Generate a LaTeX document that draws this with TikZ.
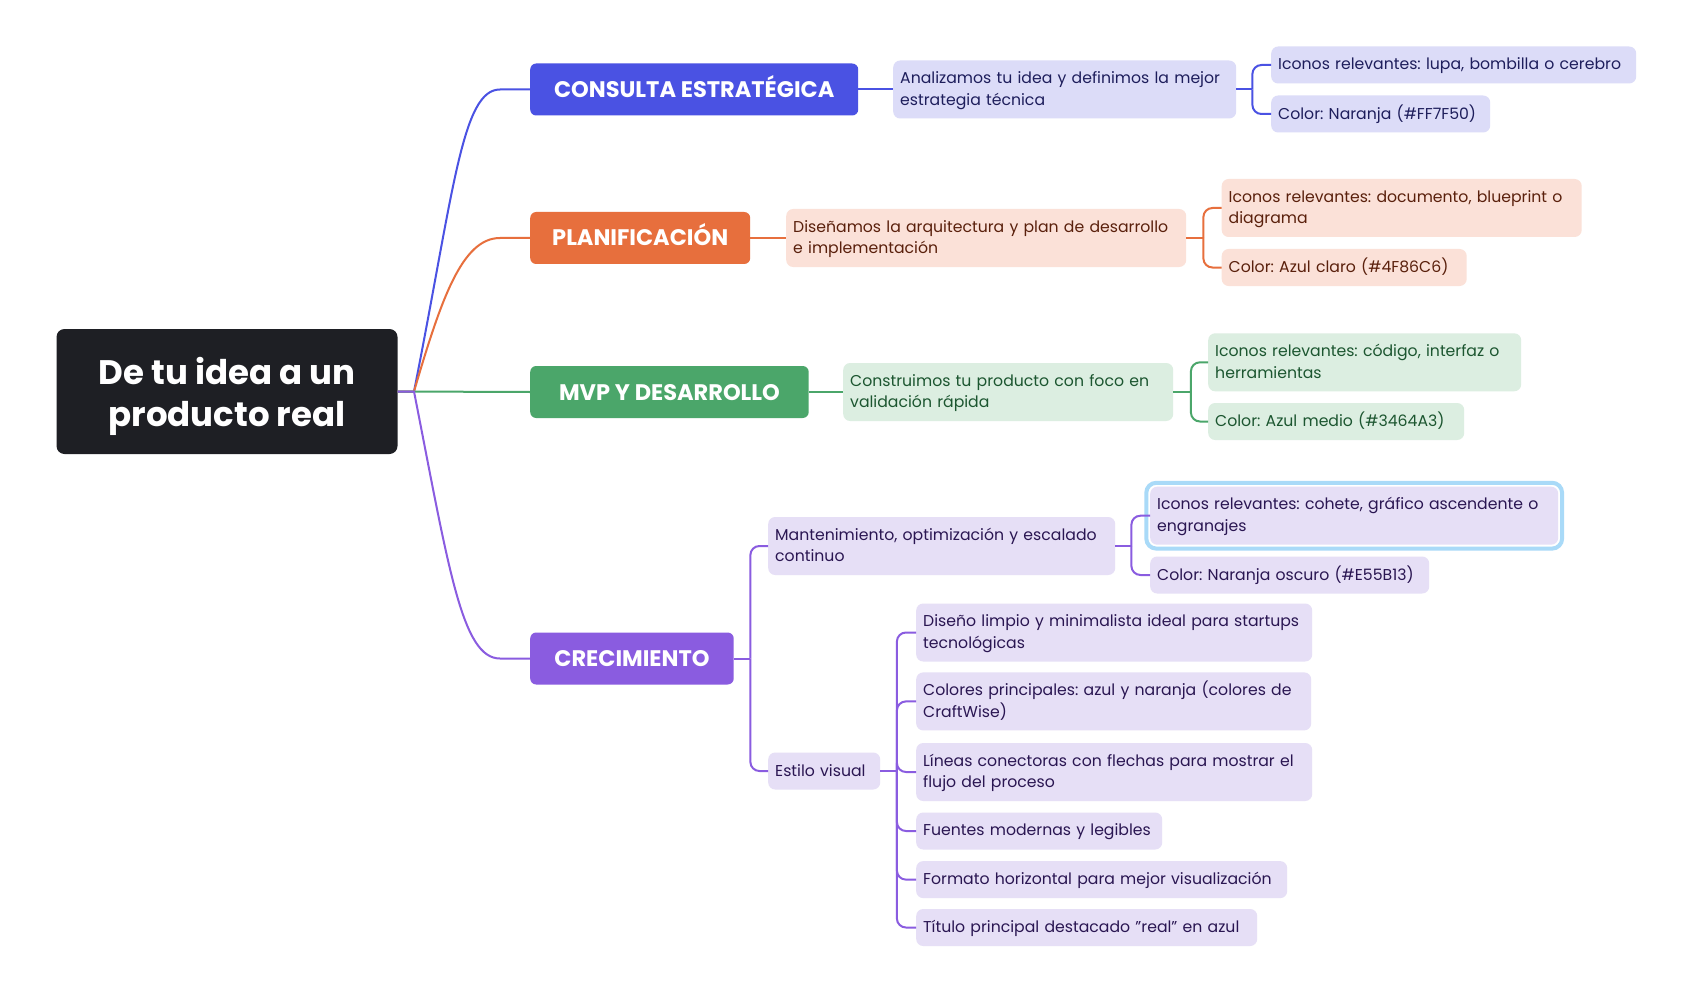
\documentclass[tikz,border=0pt]{standalone}
\usepackage{fontspec}
\setmainfont{Poppins}
\frenchspacing
\definecolor{cBlue}{HTML}{4A52E3}
\definecolor{cBlueL}{HTML}{DCDCF8}
\definecolor{cBlueT}{HTML}{1E1E5C}
\definecolor{cOr}{HTML}{E76F3D}
\definecolor{cOrL}{HTML}{FBE1D8}
\definecolor{cOrT}{HTML}{5A200C}
\definecolor{cGr}{HTML}{4BA66A}
\definecolor{cGrL}{HTML}{DCEEE1}
\definecolor{cGrT}{HTML}{1C5630}
\definecolor{cPu}{HTML}{8A5CE0}
\definecolor{cPuL}{HTML}{E6DFF6}
\definecolor{cPuT}{HTML}{2A1652}
\definecolor{cRoot}{HTML}{1E1F24}
\definecolor{cHL}{HTML}{A9DAF8}
\newcommand{\lowline}[1]{\raisebox{-4.5pt}[\height][\depth]{#1}}
\begin{document}
\begin{tikzpicture}[x=1pt,y=-1pt,
  rootbox/.style={fill=cRoot, text=white, rounded corners=8pt, align=center,
    minimum width=341pt, minimum height=125pt, inner sep=0pt,
    font=\fontsize{34}{42}\selectfont\bfseries},
  mainbox/.style={anchor=west, text=white, rounded corners=6pt,
    minimum height=52pt, inner sep=0pt, text height=16pt, text depth=0pt,
    font=\fontsize{22.5}{26}\selectfont\bfseries},
  leaf/.style={anchor=west, rounded corners=7pt, inner xsep=7pt, inner ysep=0pt,
    align=left, font=\fontsize{15.7}{21.7}\selectfont,
    execute at begin node={\rule{0pt}{14pt}},
    execute at end node={\rule[-4pt]{0pt}{4pt}}},
  one/.style={minimum height=37pt},
  two/.style={minimum height=58pt},
  bl/.style={leaf, fill=cBlueL, text=cBlueT},
  ol/.style={leaf, fill=cOrL, text=cOrT},
  gl/.style={leaf, fill=cGrL, text=cGrT},
  pl/.style={leaf, fill=cPuL, text=cPuT},
  wire/.style={line width=2pt},
  elbow/.style={line width=2pt, rounded corners=9pt},
]
\useasboundingbox[fill=white] (0,0) rectangle (1704,1000);

% root
\node[rootbox] (root) at (227,391.5) {\lowline{De tu idea a un}\\\lowline{producto real}};
\coordinate (hub) at (414,391.5);

% level 1
\node[mainbox, fill=cBlue, minimum width=328pt] (L1a) at (530,89.5) {CONSULTA ESTRATÉGICA};
\node[mainbox, fill=cOr, minimum width=220pt] (L1b) at (530,238) {PLANIFICACIÓN};
\node[mainbox, fill=cGr, minimum width=278.5pt] (L1c) at (530,392) {MVP Y DESARROLLO};
\node[mainbox, fill=cPu, minimum width=203.5pt] (L1d) at (530,658.5) {CRECIMIENTO};

% level 2
\node[bl, two, text width=329pt] (a2) at (893,89.5) {Analizamos tu idea y definimos la mejor\\estrategia técnica};
\node[ol, two, text width=386pt] (o2) at (786,238) {Diseñamos la arquitectura y plan de desarrollo\\e implementación};
\node[gl, two, text width=316pt] (g2) at (843,392) {Construimos tu producto con foco en\\validación rápida};
\node[pl, two, text width=333pt] (p2a) at (768,546) {Mantenimiento, optimización y escalado\\continuo};
\node[pl, one, text width=98pt] (p2b) at (768,771) {Estilo visual};

% level 3
\node[bl, one, text width=351pt] (a3a) at (1271,65) {Iconos relevantes: lupa, bombilla o cerebro};
\node[bl, one, text width=205pt] (a3b) at (1271,114) {Color: Naranja (\#FF7F50)};
\node[ol, two, text width=346pt] (o3a) at (1221.5,208) {Iconos relevantes: documento, blueprint o\\diagrama};
\node[ol, one, text width=231pt] (o3b) at (1221.5,267.5) {Color: Azul claro (\#4F86C6)};
\node[gl, two, text width=299pt] (g3a) at (1208,362.3) {Iconos relevantes: código, interfaz o\\herramientas};
\node[gl, one, text width=242pt] (g3b) at (1208,421.5) {Color: Azul medio (\#3464A3)};
\node[pl, two, text width=394pt] (p3a) at (1150,515.7) {Iconos relevantes: cohete, gráfico ascendente o\\engranajes};
\node[pl, one, text width=265pt] (p3b) at (1150,575) {Color: Naranja oscuro (\#E55B13)};
\node[pl, two, text width=382pt] (s1) at (916,632.5) {Diseño limpio y minimalista ideal para startups\\tecnológicas};
\node[pl, two, text width=381pt] (s2) at (916,701.4) {Colores principales: azul y naranja (colores de\\CraftWise)};
\node[pl, two, text width=382pt] (s3) at (916,772) {Líneas conectoras con flechas para mostrar el\\flujo del proceso};
\node[pl, one, text width=232pt] (s4) at (916,831) {Fuentes modernas y legibles};
\node[pl, one, text width=357pt] (s5) at (916,879.6) {Formato horizontal para mejor visualización};
\node[pl, one, text width=327pt] (s6) at (916,927.5) {Título principal destacado "real" en azul};

% highlight
\draw[cHL, line width=4pt, rounded corners=10pt]
  ([xshift=-3.7pt,yshift=3.7pt]p3a.north west) rectangle ([xshift=3.7pt,yshift=-3.7pt]p3a.south east);

% root connectors
\draw[wire, cBlue] (root.east) -- (hub) .. controls +(40,-202) and +(-38,0) .. ([xshift=-30pt]L1a.west) -- (L1a.west);
\draw[wire, cOr] (root.east) -- (hub) .. controls +(27,-92) and +(-38,0) .. ([xshift=-30pt]L1b.west) -- (L1b.west);
\draw[wire, cGr] (root.east) -- (L1c.west);
\draw[wire, cPu] (root.east) -- (hub) .. controls +(35,178) and +(-38,0) .. ([xshift=-30pt]L1d.west) -- (L1d.west);

% level1 -> level2
\draw[wire, cBlue] (L1a.east) -- (a2.west);
\draw[wire, cOr] (L1b.east) -- (o2.west);
\draw[wire, cGr] (L1c.east) -- (g2.west);

% brackets
\draw[wire, cBlue] (a2.east) -- ++(16,0) coordinate (ja);
\draw[elbow, cBlue] (ja) |- (a3a.west);
\draw[elbow, cBlue] (ja) |- (a3b.west);

\draw[wire, cOr] (o2.east) -- ++(17,0) coordinate (jo);
\draw[elbow, cOr] (jo) |- (o3a.west);
\draw[elbow, cOr] (jo) |- (o3b.west);

\draw[wire, cGr] (g2.east) -- ++(17.5,0) coordinate (jg);
\draw[elbow, cGr] (jg) |- (g3a.west);
\draw[elbow, cGr] (jg) |- (g3b.west);

\draw[wire, cPu] (L1d.east) -- ++(16.5,0) coordinate (jd);
\draw[elbow, cPu] (jd) |- (p2a.west);
\draw[elbow, cPu] (jd) |- (p2b.west);

\draw[wire, cPu] (p2a.east) -- ++(16,0) coordinate (jp);
\draw[elbow, cPu] (jp) |- (p3a.west);
\draw[elbow, cPu] (jp) |- (p3b.west);

\draw[wire, cPu] (p2b.east) -- ++(16.5,0) coordinate (js);
\foreach \n in {s1,s2,s3,s4,s5,s6}
  \draw[elbow, cPu] (js) |- (\n.west);
\end{tikzpicture}
\end{document}
